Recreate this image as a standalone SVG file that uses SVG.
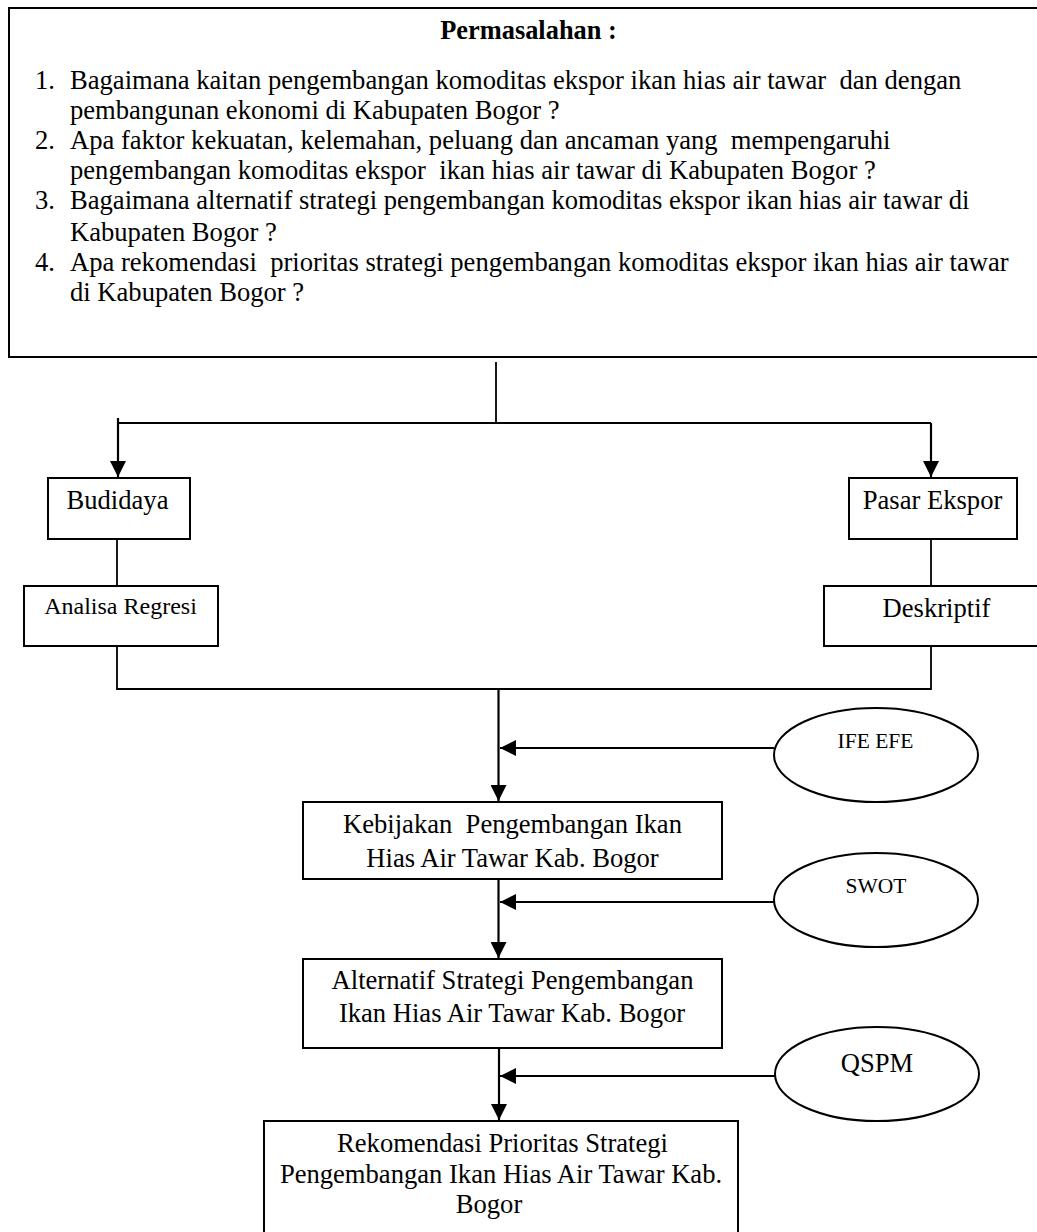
<svg xmlns="http://www.w3.org/2000/svg" width="1037" height="1232" viewBox="0 0 1037 1232">
<style>
text { font-family: 'Liberation Serif', 'DejaVu Serif', serif; fill: #000; white-space: pre; }
.b { font-size: 26.6px; }
.t { font-size: 26.4px; font-weight: bold; }
.n { font-size: 26.6px; text-anchor: middle; }
.s { font-size: 24px; text-anchor: middle; }
.e { font-size: 21.5px; text-anchor: middle; }
.box { fill: #fff; stroke: #000; stroke-width: 2; }
.ln { fill: none; stroke: #000; stroke-width: 1.8; }
.ar { fill: none; stroke: #000; stroke-width: 2.2; }
</style>
<defs>
<marker id="ah" viewBox="0 0 16 16" refX="16" refY="8" markerWidth="16" markerHeight="16" markerUnits="userSpaceOnUse" orient="auto">
<path d="M0,0 L16,8 L0,16 Z" fill="#000"/>
</marker>
</defs>
<rect width="1037" height="1232" fill="#fff"/>

<g id="permasalahan">
<rect class="box" x="9" y="8" width="1040" height="349"/>
<text class="t" x="528.5" y="39" text-anchor="middle">Permasalahan :</text>
<text class="b" x="35" y="89">1.</text>
<text class="b" x="70" y="89">Bagaimana kaitan pengembangan komoditas ekspor ikan hias air tawar  dan dengan</text>
<text class="b" x="70" y="119">pembangunan ekonomi di Kabupaten Bogor ?</text>
<text class="b" x="35" y="149">2.</text>
<text class="b" x="70" y="149">Apa faktor kekuatan, kelemahan, peluang dan ancaman yang  mempengaruhi</text>
<text class="b" x="70" y="179">pengembangan komoditas ekspor  ikan hias air tawar di Kabupaten Bogor ?</text>
<text class="b" x="35" y="209">3.</text>
<text class="b" x="70" y="209">Bagaimana alternatif strategi pengembangan komoditas ekspor ikan hias air tawar di</text>
<text class="b" x="70" y="241">Kabupaten Bogor ?</text>
<text class="b" x="35" y="271">4.</text>
<text class="b" x="70" y="271">Apa rekomendasi  prioritas strategi pengembangan komoditas ekspor ikan hias air tawar</text>
<text class="b" x="70" y="301">di Kabupaten Bogor ?</text>
</g>

<g id="connectors">
<line class="ln" x1="496" y1="362" x2="496" y2="423"/>
<line class="ln" x1="117" y1="423" x2="931" y2="423"/>
<line class="ar" x1="118" y1="418" x2="118" y2="477" marker-end="url(#ah)"/>
<line class="ar" x1="931" y1="423" x2="931" y2="477" marker-end="url(#ah)"/>
<line class="ln" x1="117" y1="539" x2="117" y2="586"/>
<line class="ln" x1="931" y1="539" x2="931" y2="586"/>
<polyline class="ln" points="117,646 117,689 931,689 931,646"/>
<line class="ar" x1="498.5" y1="689" x2="498.5" y2="801" marker-end="url(#ah)"/>
<line class="ar" x1="774" y1="748" x2="500" y2="748" marker-end="url(#ah)"/>
<line class="ar" x1="498.5" y1="879" x2="498.5" y2="958" marker-end="url(#ah)"/>
<line class="ar" x1="774" y1="902" x2="500" y2="902" marker-end="url(#ah)"/>
<line class="ar" x1="499" y1="1048" x2="499" y2="1120" marker-end="url(#ah)"/>
<line class="ar" x1="775" y1="1076" x2="500" y2="1076" marker-end="url(#ah)"/>
</g>

<g id="budidaya">
<rect class="box" x="48" y="478" width="142" height="61"/>
<text class="n" x="117.5" y="509">Budidaya</text>
</g>
<g id="pasar-ekspor">
<rect class="box" x="849" y="478" width="168" height="61"/>
<text class="n" x="932.5" y="509">Pasar Ekspor</text>
</g>
<g id="analisa-regresi">
<rect class="box" x="24" y="586" width="194" height="60"/>
<text class="s" x="120.5" y="614">Analisa Regresi</text>
</g>
<g id="deskriptif">
<rect class="box" x="824" y="586" width="230" height="60"/>
<text class="n" x="936.5" y="617">Deskriptif</text>
</g>
<g id="ife-efe">
<ellipse class="box" cx="876" cy="755" rx="102" ry="47"/>
<text class="e" x="875.5" y="748">IFE EFE</text>
</g>
<g id="kebijakan">
<rect class="box" x="303" y="802" width="419" height="77"/>
<text class="n" x="512.5" y="833">Kebijakan  Pengembangan Ikan</text>
<text class="n" x="512.5" y="867">Hias Air Tawar Kab. Bogor</text>
</g>
<g id="swot">
<ellipse class="box" cx="876" cy="900" rx="102" ry="47"/>
<text class="e" x="876" y="893">SWOT</text>
</g>
<g id="alternatif">
<rect class="box" x="303" y="959" width="419" height="89"/>
<text class="n" x="512.5" y="989">Alternatif Strategi Pengembangan</text>
<text class="n" x="512" y="1022">Ikan Hias Air Tawar Kab. Bogor</text>
</g>
<g id="qspm">
<ellipse class="box" cx="877" cy="1074" rx="102" ry="47"/>
<text class="n" x="877" y="1072">QSPM</text>
</g>
<g id="rekomendasi">
<rect class="box" x="264" y="1121" width="474" height="130"/>
<text class="n" x="502.5" y="1152">Rekomendasi Prioritas Strategi</text>
<text class="n" x="501" y="1183">Pengembangan Ikan Hias Air Tawar Kab.</text>
<text class="n" x="489" y="1213">Bogor</text>
</g>
</svg>
